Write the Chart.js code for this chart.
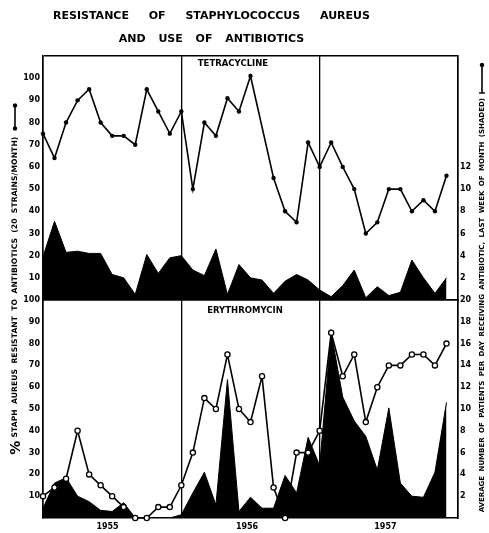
<!DOCTYPE html>
<html><head><meta charset="utf-8">
<script src="https://cdn.jsdelivr.net/npm/chart.js@4.4.1/dist/chart.umd.min.js"></script>
<style>
html,body{margin:0;padding:0;background:#fff;}
#wrap{position:relative;width:489px;height:533px;overflow:hidden;font-family:"DejaVu Sans",sans-serif;font-weight:bold;color:#000;}
canvas{position:absolute;left:0;top:0;}
.t{position:absolute;white-space:nowrap;line-height:1;}
.rot{position:absolute;white-space:nowrap;line-height:1;transform:rotate(-90deg);transform-origin:50% 50%;text-align:center;display:flex;align-items:center;justify-content:center;}
</style></head>
<body><div id="wrap">
<canvas id="top" width="489" height="533"></canvas>
<canvas id="bot" width="489" height="533"></canvas>
<div class="t" style="left:0;width:423px;text-align:center;top:10px;font-size:11px;word-spacing:16px">RESISTANCE OF STAPHYLOCOCCUS AUREUS</div>
<div class="t" style="left:0;width:423px;text-align:center;top:33px;font-size:11px;word-spacing:9px">AND USE OF ANTIBIOTICS</div>
<div class="t" style="left:183px;width:100px;text-align:center;top:59px;font-size:8.5px">TETRACYCLINE</div>
<div class="t" style="left:195px;width:100px;text-align:center;top:306px;font-size:8.5px">ERYTHROMYCIN</div>
<div class="rot" style="left:-175px;top:272px;width:380px;height:14px;font-size:7.6px;letter-spacing:0.1px;word-spacing:2.5px"><span style="font-size:14px;margin-right:3px">%</span>STAPH AUREUS RESISTANT TO ANTIBIOTICS (20 STRAINS/MONTH)&nbsp;<svg width="28" height="6"><line x1="2" y1="3" x2="26" y2="3" stroke="#000" stroke-width="1.6"/><circle cx="2.5" cy="3" r="2.2"/><circle cx="25.5" cy="3" r="2.2"/></svg></div>
<div class="rot" style="left:252px;top:281px;width:460px;height:12px;font-size:7px;word-spacing:2px">AVERAGE NUMBER OF PATIENTS PER DAY RECEIVING ANTIBIOTIC, LAST WEEK OF MONTH (SHADED)&nbsp;<svg width="32" height="6"><line x1="1" y1="3" x2="29" y2="3" stroke="#000" stroke-width="1.6"/><line x1="1" y1="0" x2="1" y2="6" stroke="#000" stroke-width="1.4"/><circle cx="29" cy="3" r="2.2"/></svg></div>
</div>
<script>
// Months Jan 1955 .. Dec 1957
const categories = [
 'Jan 1955','Feb 1955','Mar 1955','Apr 1955','May 1955','Jun 1955','Jul 1955','Aug 1955','Sep 1955','Oct 1955','Nov 1955','Dec 1955',
 'Jan 1956','Feb 1956','Mar 1956','Apr 1956','May 1956','Jun 1956','Jul 1956','Aug 1956','Sep 1956','Oct 1956','Nov 1956','Dec 1956',
 'Jan 1957','Feb 1957','Mar 1957','Apr 1957','May 1957','Jun 1957','Jul 1957','Aug 1957','Sep 1957','Oct 1957','Nov 1957','Dec 1957'];
const yearLabels = ['1955','1956','1957'];

// Tetracycline: % resistant (left axis) and patients/day (right axis, shaded)
const tetraResist = [75,64,80,90,95,80,74,74,70,95,85,75, 85,50,80,74,91,85,101,null,55,40,35,71, 60,71,60,50,30,35,50,50,40,45,40,56];
const tetraUse    = [3.9,7.1,4.3,4.4,4.2,4.2,2.3,2.0,0.5,4.1,2.4,3.8, 4.0,2.7,2.2,4.6,0.5,3.2,2.0,1.8,0.6,1.7,2.3,1.8, 0.9,0.3,1.3,2.7,0.2,1.2,0.4,0.7,3.6,2.0,0.6,2.0];

// Erythromycin
const eryResist = [10,14,18,40,20,15,10,5,0,0,5,5, 15,30,55,50,75,50,44,65,14,0,30,30, 40,85,65,75,44,60,70,70,75,75,70,80];
const eryUse    = [0.9,3.2,3.7,2.0,1.5,0.7,0.6,1.4,0,0,0,0, 0.3,2.3,4.2,1.2,12.7,0.6,1.9,0.9,0.9,3.9,2.3,7.4, 4.8,17,11.1,8.9,7.5,4.4,10.1,3.2,2.0,1.9,4.2,10.6];

const pts = arr => arr.map((v,i)=>({x:i, y:v}));
const FONT = {family:'"DejaVu Sans", sans-serif', weight:'bold', size:8};

function makeChart(id, resist, use, leftMax, rightMax, rightLabelMax, padTop, padBottom, openPts, withYears){
  const scales = {
    x:{type:'linear', min:0, max:categories.length, position:'bottom',
       ticks:{display:false, stepSize:12}, grid:{color:'#000', lineWidth:1.3, drawTicks:false},
       border:{display:true, color:'#000', width:1.6},
       afterFit:s=>{s.height=0;}},
    yL:{type:'linear', position:'left', min:0, max:leftMax,
       ticks:{stepSize:10, color:'#000', font:FONT, padding:3,
              callback:v=>(v>0 && v<=100)?v:''},
       grid:{drawTicks:false, lineWidth:1.6, color:c=>(c.tick && c.tick.value===leftMax)?'#000':'rgba(0,0,0,0)'},
       border:{display:true, color:'#000', width:1.6},
       afterFit:s=>{s.width=43;}},
    yR:{type:'linear', position:'right', min:0, max:rightMax,
       ticks:{stepSize:2, color:'#000', font:FONT, padding:2,
              callback:v=>(v>0 && v<=rightLabelMax)?v:''},
       grid:{display:false, drawTicks:false},
       border:{display:true, color:'#000', width:1.6},
       afterFit:s=>{s.width=31;}}
  };
  if(withYears){
    const pos=[5.6,17.7,29.7];
    scales.xYear={type:'linear', min:0, max:categories.length, position:'bottom',
      grid:{display:false, drawTicks:false}, border:{display:false},
      ticks:{autoSkip:false, maxRotation:0, color:'#000', font:{family:'"DejaVu Sans", sans-serif', weight:'bold', size:8}, padding:4,
             callback:v=>{const k=pos.indexOf(v); return k>=0?yearLabels[k]:'';}},
      afterBuildTicks:s=>{s.ticks=pos.map(v=>({value:v}));},
      afterFit:s=>{s.height=15;}};
  }
  return new Chart(document.getElementById(id), {
    type:'line',
    data:{datasets:[
      {label:'resistant', data:pts(resist), yAxisID:'yL', xAxisID:'x', borderColor:'#000', borderWidth:1.6,
       tension:0, spanGaps:true, clip:false,
       pointRadius:openPts?2.6:2.2, pointBackgroundColor:openPts?'#fff':'#000',
       pointBorderColor:'#000', pointBorderWidth:openPts?1.3:0, order:0},
      {label:'use', data:pts(use), yAxisID:'yR', xAxisID:'x', borderColor:'#000', borderWidth:1,
       backgroundColor:'#000', fill:'origin', tension:0, pointRadius:0, order:1}
    ]},
    options:{responsive:false, animation:false, devicePixelRatio:1,
      layout:{padding:{left:0,right:0,top:padTop,bottom:padBottom}},
      plugins:{legend:{display:false}, tooltip:{enabled:false}},
      scales}
  });
}
makeChart('top', tetraResist, tetraUse, 110, 22, 12, 56, 233, false, false);
makeChart('bot', eryResist, eryUse, 100, 20, 20, 300, 0, true, true);
</script>
</body></html>
